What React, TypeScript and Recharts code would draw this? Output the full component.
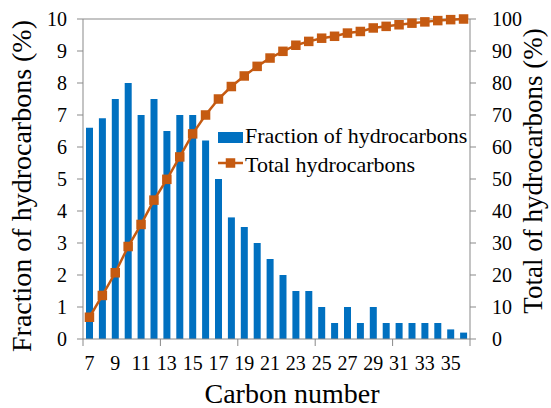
import React from 'react';
import { ComposedChart, Bar, Line, XAxis, YAxis, ReferenceLine, Label } from 'recharts';

const carbonNumbers = [7, 8, 9, 10, 11, 12, 13, 14, 15, 16, 17, 18, 19, 20, 21, 22, 23, 24, 25, 26, 27, 28, 29, 30, 31, 32, 33, 34, 35, 36];
const fractionValues = [6.6, 6.9, 7.5, 8.0, 7.0, 7.5, 6.5, 7.0, 7.0, 6.2, 5.0, 3.8, 3.5, 3.0, 2.5, 2.0, 1.5, 1.5, 1.0, 0.5, 1.0, 0.5, 1.0, 0.5, 0.5, 0.5, 0.5, 0.5, 0.3, 0.2];
const totalValues = [6.8, 13.6, 20.7, 28.9, 35.8, 43.4, 49.9, 56.9, 64.1, 70.0, 75.0, 78.9, 82.2, 85.2, 87.8, 89.9, 91.8, 93.0, 94.0, 94.6, 95.6, 96.1, 97.2, 97.7, 98.2, 98.7, 99.1, 99.5, 99.8, 100];
const leftTicks = [0, 1, 2, 3, 4, 5, 6, 7, 8, 9, 10];
const rightTicks = [0, 10, 20, 30, 40, 50, 60, 70, 80, 90, 100];

const data = carbonNumbers.map((c, i) => ({ carbon: c, fraction: fractionValues[i], total: totalValues[i] }));

const FONT = 'Liberation Serif';
const BLUE = '#0070C0';
const ORANGE = '#C55A11';
const AXIS = '#898989';

const XTick = (props: any) => {
  const { x, y, payload } = props;
  const idx = payload.index;
  const half = payload.offset ?? 6.45;
  return (
    <g>
      {idx % 2 === 0 && (
        <text x={x} y={y + 31} textAnchor="middle" fontFamily={FONT} fontSize={20} fill="#000">
          {payload.value}
        </text>
      )}
      {idx % 6 === 0 && <line x1={x - half} x2={x - half} y1={y} y2={y + 7} stroke={AXIS} strokeWidth={1} />}
      {idx === carbonNumbers.length - 1 && <line x1={x + half} x2={x + half} y1={y} y2={y + 7} stroke={AXIS} strokeWidth={1} />}
    </g>
  );
};

const SquareDot = (props: any) => {
  const { cx, cy } = props;
  if (cx == null || cy == null) return null;
  return <rect x={cx - 4.75} y={cy - 4.75} width={9.5} height={9.5} fill={ORANGE} />;
};

const leftTitle = () => (
  <text x={0} y={0} transform="translate(31,186) rotate(-90)" textAnchor="middle" fontFamily={FONT} fontSize={28} fill="#000">
    Fraction of hydrocarbons (%)
  </text>
);

const rightTitle = () => (
  <text x={0} y={0} transform="translate(542,171) rotate(-90)" textAnchor="middle" fontFamily={FONT} fontSize={27} fill="#000">
    Total of hydrocarbons (%)
  </text>
);

const bottomTitle = () => (
  <text x={292} y={403} textAnchor="middle" fontFamily={FONT} fontSize={28} fill="#000">
    Carbon number
  </text>
);

export default function App() {
  return (
    <div style={{ position: 'absolute', left: 0, top: 0, width: 551, height: 408, background: '#fff' }}>
      <ComposedChart width={551} height={408} data={data} margin={{ top: 19, right: 0, bottom: 0, left: 0 }}>
        <XAxis
          dataKey="carbon"
          xAxisId="x"
          interval={0}
          tickLine={false}
          tickSize={0}
          tickMargin={0}
          height={69}
          stroke={AXIS}
          tick={<XTick />}
        >
          <Label content={bottomTitle} />
        </XAxis>
        <YAxis
          yAxisId="left"
          orientation="left"
          width={83}
          domain={[0, 10]}
          ticks={leftTicks}
          interval={0}
          tickSize={6}
          tickMargin={10}
          stroke={AXIS}
          tick={{ fill: '#000', fontFamily: FONT, fontSize: 20 }}
        >
          <Label content={leftTitle} />
        </YAxis>
        <YAxis
          yAxisId="right"
          orientation="right"
          width={81}
          domain={[0, 100]}
          ticks={rightTicks}
          interval={0}
          tickSize={6}
          tickMargin={16}
          stroke={AXIS}
          tick={{ fill: '#000', fontFamily: FONT, fontSize: 20 }}
        >
          <Label content={rightTitle} />
        </YAxis>
        <ReferenceLine yAxisId="left" xAxisId="x" y={10} stroke={AXIS} strokeWidth={1} />
        <Bar dataKey="fraction" xAxisId="x" yAxisId="left" fill={BLUE} barSize={7} isAnimationActive={false} />
        <Line
          dataKey="total"
          xAxisId="x"
          yAxisId="right"
          stroke={ORANGE}
          strokeWidth={2.5}
          dot={<SquareDot />}
          activeDot={false}
          isAnimationActive={false}
        />
      </ComposedChart>
      <div style={{ position: 'absolute', left: 218, top: 124, width: 260, height: 60 }}>
        <svg width={260} height={60} style={{ display: 'block' }}>
          <rect x={0} y={8} width={25} height={11} fill={BLUE} />
          <text x={27} y={19} fontFamily={FONT} fontSize={22} fill="#000">Fraction of hydrocarbons</text>
          <line x1={0} x2={25} y1={39} y2={39} stroke={ORANGE} strokeWidth={2.5} />
          <rect x={7.75} y={34.25} width={9.5} height={9.5} fill={ORANGE} />
          <text x={27} y={47.5} fontFamily={FONT} fontSize={22} fill="#000">Total hydrocarbons</text>
        </svg>
      </div>
    </div>
  );
}
